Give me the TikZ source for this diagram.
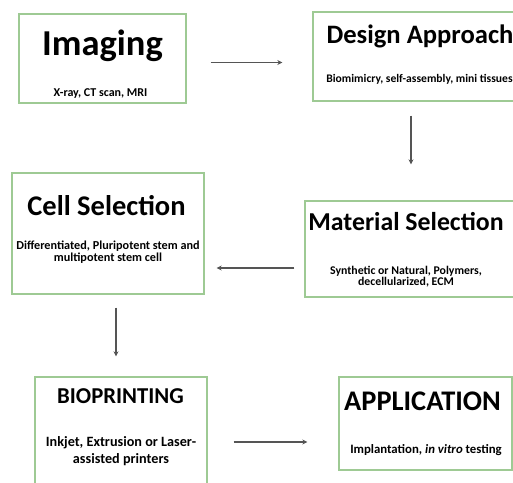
\documentclass[tikz,border=0pt]{standalone}
\usepackage{fontspec}
\setmainfont{Carlito}
\usetikzlibrary{arrows.meta,positioning}

\definecolor{boxgreen}{RGB}{158,202,148}
\definecolor{arrowgray}{RGB}{85,85,85}

\begin{document}
\begin{tikzpicture}[
        x=1pt, y=-1pt,
        box/.style={draw=boxgreen, line width=1.3pt, minimum width=#1, inner sep=0pt},
        head/.style={font=\bfseries\fontsize{26}{29}\selectfont, anchor=base, inner sep=0pt},
        sub/.style={font=\bfseries\fontsize{11}{11.5}\selectfont, align=center, inner sep=0pt},
        arrow/.style={-{Stealth[length=5pt,width=5pt]}, line width=1.2pt, draw=arrowgray}
    ]
        \useasboundingbox (0,0) rectangle (513,482);
        \clip (0,0) rectangle (513,482);

        % boxes
        \node[box=167pt, minimum height=89pt] (imaging) at (102.5,58.5) {};
        \node[box=214pt, minimum height=89pt] (design) at (420,56.5) {};
        \node[box=209pt, minimum height=96pt] (material) at (409.5,249) {};
        \node[box=192pt, minimum height=121pt] (cell) at (108,233.5) {};
        \node[box=172pt, minimum height=118pt] (bio) at (121,436) {};
        \node[box=173pt, minimum height=93pt] (app) at (425.5,423.5) {};

        % titles and details
        \node[head, font=\bfseries\fontsize{36.5}{40}\selectfont] (imaging-t) at (102.5,55) {Imaging};
        \node[sub, font=\bfseries\fontsize{12}{13}\selectfont] (imaging-s) at (100.5,93.5) {X-ray, CT scan, MRI};

        \node[head, font=\bfseries\fontsize{26.6}{29}\selectfont] (design-t) at (420,43) {Design Approach};
        \node[sub, font=\bfseries\fontsize{11.6}{13}\selectfont] (design-s) at (419.5,79) {Biomimicry, self-assembly, mini tissues};

        \node[head, font=\bfseries\fontsize{25.8}{29}\selectfont] (material-t) at (406,230) {Material Selection};
        \node[sub, font=\bfseries\fontsize{11.8}{11.5}\selectfont] (material-s) at (406,276.5) {Synthetic or Natural, Polymers,\\decellularized, ECM};

        \node[head, font=\bfseries\fontsize{28.5}{31}\selectfont] (cell-t) at (106.5,215) {Cell Selection};
        \node[sub, font=\bfseries\fontsize{12.2}{12}\selectfont] (cell-s) at (108,252.5) {Differentiated, Pluripotent stem and\\multipotent stem cell};

        \node[head, font=\bfseries\fontsize{22.7}{26}\selectfont] (bio-t) at (120.5,403) {BIOPRINTING};
        \node[sub, font=\bfseries\fontsize{14.2}{17}\selectfont] (bio-s) at (121,451.5) {Inkjet, Extrusion or Laser-\\assisted printers};

        \node[head, font=\bfseries\fontsize{28.4}{31}\selectfont] (app-t) at (422.5,410) {APPLICATION};
        \node[sub, font=\bfseries\fontsize{12.8}{13}\selectfont] (app-s) at (426,450) {Implantation, \textit{in vitro} testing};

        % flow
        \draw[arrow, shorten <=24pt, shorten >=30pt] ([yshift=-4pt]imaging.east) -- ([yshift=-4pt]imaging.east -| design.west);
        \draw[arrow, shorten <=14pt, shorten >=36pt] ([xshift=-9pt]design.south) -- ([xshift=-9pt]design.south |- material.north);
        \draw[arrow, shorten <=10pt, shorten >=12pt] ([yshift=-19pt]material.west) -- ([yshift=-19pt]material.west -| cell.east);
        \draw[arrow, shorten <=13pt, shorten >=20pt] ([xshift=8pt]cell.south) -- ([xshift=8pt]cell.south |- bio.north);
        \draw[arrow, shorten <=26pt, shorten >=31pt] ([yshift=-6pt]bio.east) -- ([yshift=-6pt]bio.east -| app.west);
    \end{tikzpicture}
\end{document}
